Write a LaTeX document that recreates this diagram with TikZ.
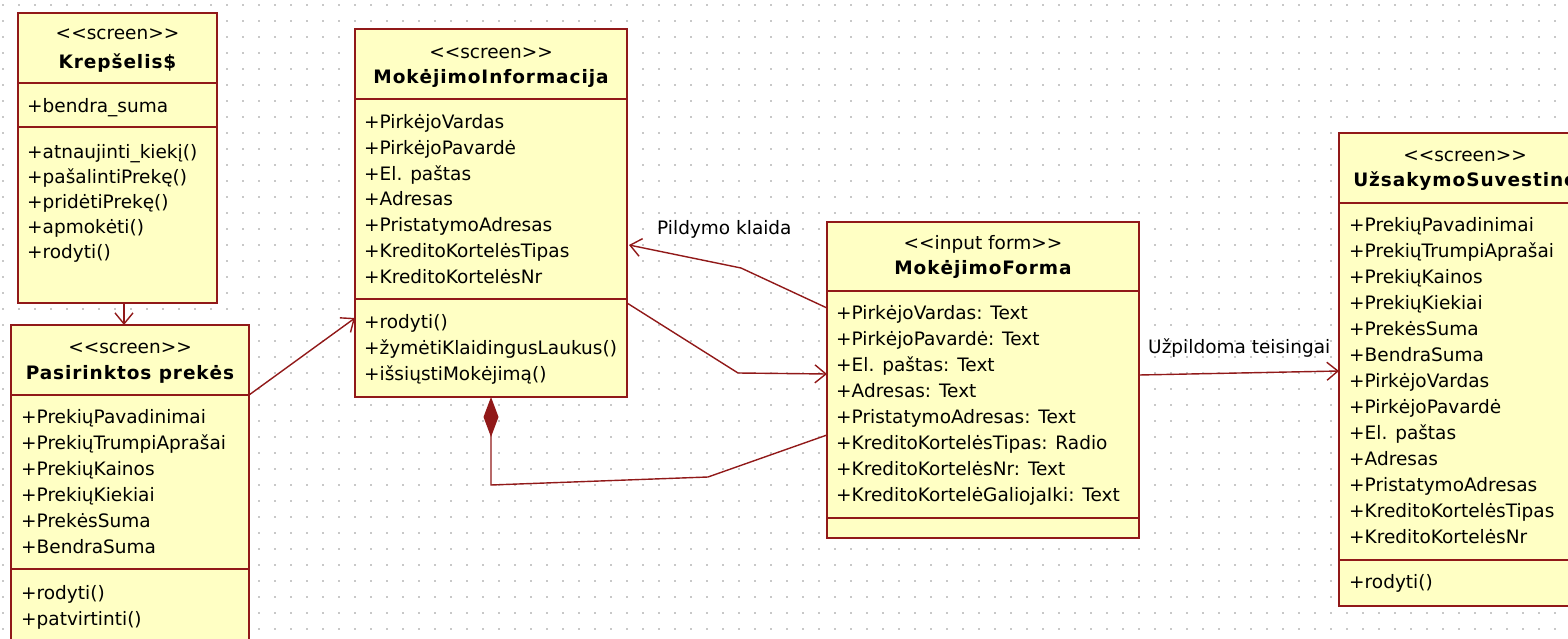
\documentclass[tikz,border=0pt]{standalone}
\usepackage{fontspec}
\setmainfont{DejaVu Sans}
\usetikzlibrary{arrows.meta,calc}

\definecolor{umlline}{RGB}{145,25,25}
\definecolor{umlfill}{RGB}{255,255,196}
\definecolor{griddot}{RGB}{200,200,200}

\tikzset{
  classbox/.style={draw=umlline, fill=umlfill, line width=1.8pt, rectangle,
    inner sep=0pt, outer sep=0pt, anchor=north west},
  divider/.style={draw=umlline, line width=1.8pt},
  member/.style={inner sep=0pt, anchor=base west, font=\fontsize{18.5}{22}\selectfont},
  stereo/.style={inner sep=0pt, anchor=base, font=\fontsize{18.5}{22}\selectfont},
  classtitle/.style={inner sep=0pt, anchor=base,
    font=\fontsize{18.5}{22}\selectfont\bfseries\addfontfeature{LetterSpace=5}},
  linklabel/.style={inner sep=0pt, anchor=base west, font=\fontsize{18.5}{22}\selectfont},
  link/.style={draw=umlline, line width=1.4pt},
  nav/.style={link, -{Straight Barb[length=11pt,width=18pt]}},
  compose/.style={link, {Diamond[length=40pt,width=15pt]}-},
}

% class rectangle with its two compartment lines
% #1 name, #2 x, #3 y, #4 width, #5 height, #6 first divider, #7 second divider
\newcommand\umlbox[7]{%
  \node[classbox, minimum width=#4pt, minimum height=#5pt] (#1) at (#2,#3) {};
  \draw[divider] ($(#1.north west)+(0,#6)$) -- ($(#1.north east)+(0,#6)$);
  \draw[divider] ($(#1.north west)+(0,#7)$) -- ($(#1.north east)+(0,#7)$);
}

% one member per line: #1 name prefix, #2 x, #3 first baseline, #4 line step, #5 lines
\newcommand\umlmembers[5]{%
  \foreach \txt [count=\k] in {#5}
    \node[member] (#1\k) at (#2, {#3+(\k-1)*#4}) {\txt};
}

\newcommand\stereotype[1]{<\kern0pt<#1>\kern0pt>}

\begin{document}
\begin{tikzpicture}[x=1pt,y=-1pt]
\useasboundingbox (0,0) rectangle (1568,639);
\clip (0,0) rectangle (1568,639);
\fill[white] (0,0) rectangle (1568,639);

% dotted drawing grid
\foreach \i in {0,...,97}
  \foreach \j in {0,...,39}
    \fill[griddot] ({3+16*\i-0.8},{5+16*\j-0.8}) rectangle ++(1.6,1.6);

% ---- classes ----
\umlbox{kr}{18}{13}{199}{290}{70}{114}
\node[stereo] (krst) at (117.5,39.5) {\stereotype{screen}};
\node[classtitle] (krti) at (117.5,68.5) {Krepšelis\$};
\umlmembers{kra}{27}{112.5}{25}{+bendra\_suma}
\umlmembers{krm}{27}{158.5}{25}{+atnaujinti\_kiekį(),+pašalintiPrekę(),+pridėtiPrekę(),+apmokėti(),+rodyti()}

\umlbox{ps}{11}{325}{238}{335}{70}{244}
\node[stereo] (psst) at (130,353.5) {\stereotype{screen}};
\node[classtitle] (psti) at (130,379.5) {Pasirinktos prekės};
\umlmembers{psa}{21}{423.5}{26}{+PrekiųPavadinimai,+PrekiųTrumpiAprašai,+PrekiųKainos,+PrekiųKiekiai,+PrekėsSuma,+BendraSuma}
\umlmembers{psm}{21}{599.5}{26}{+rodyti(),+patvirtinti()}

\umlbox{mi}{355}{29}{272}{368}{70}{270}
\node[stereo] (mist) at (491,58.5) {\stereotype{screen}};
\node[classtitle] (miti) at (491,83.5) {MokėjimoInformacija};
\umlmembers{mia}{364}{128.5}{25.8}{+PirkėjoVardas,+PirkėjoPavardė,+El. paštas,+Adresas,+PristatymoAdresas,+KreditoKortelėsTipas,+KreditoKortelėsNr}
\umlmembers{mim}{364}{328.5}{26}{+rodyti(),+žymėtiKlaidingusLaukus(),+išsiųstiMokėjimą()}

\umlbox{mf}{827}{222}{312}{316}{69}{296}
\node[stereo] (mfst) at (983,249.5) {\stereotype{input form}};
\node[classtitle] (mfti) at (983,274.5) {MokėjimoForma};
\umlmembers{mfa}{836}{319.5}{26}{+PirkėjoVardas: Text,+PirkėjoPavardė: Text,+El. paštas: Text,+Adresas: Text,+PristatymoAdresas: Text,+KreditoKortelėsTipas: Radio,+KreditoKortelėsNr: Text,+KreditoKortelėGaliojaIki: Text}

\umlbox{uz}{1339}{133}{252}{473}{70}{427}
\node[stereo] (uzst) at (1465,161.5) {\stereotype{screen}};
\node[classtitle] (uzti) at (1465,186.5) {UžsakymoSuvestinė};
\umlmembers{uza}{1349}{231.5}{26}{+PrekiųPavadinimai,+PrekiųTrumpiAprašai,+PrekiųKainos,+PrekiųKiekiai,+PrekėsSuma,+BendraSuma,+PirkėjoVardas,+PirkėjoPavardė,+El. paštas,+Adresas,+PristatymoAdresas,+KreditoKortelėsTipas,+KreditoKortelėsNr}
\umlmembers{uzm}{1349}{588.5}{26}{+rodyti()}

% ---- connectors ----
\draw[nav] ($(kr.south)+(6.5,0)$) -- ($(ps.north)+(-6,0)$);
\draw[nav] ($(ps.north east)+(0,70)$) -- ($(mi.north west)+(0,289)$);
\draw[nav] ($(mf.north west)+(0,86)$) -- (741,268) -- ($(mi.north east)+(2,216)$);
\draw[nav] ($(mi.north east)+(0,274)$) -- (738,373) -- ($(mf.north west)+(0,152)$);
\draw[compose] (mi.south) -- (491,485) -- (708,477) -- ($(mf.north west)+(0,213)$);
\draw[nav] ($(mf.north east)+(0,153)$) -- ($(uz.north west)+(0,238)$);

\node[linklabel] (lblerr) at (657,234.5) {Pildymo klaida};
\node[linklabel] (lblok) at (1148,353.5) {Užpildoma teisingai};
\end{tikzpicture}
\end{document}
